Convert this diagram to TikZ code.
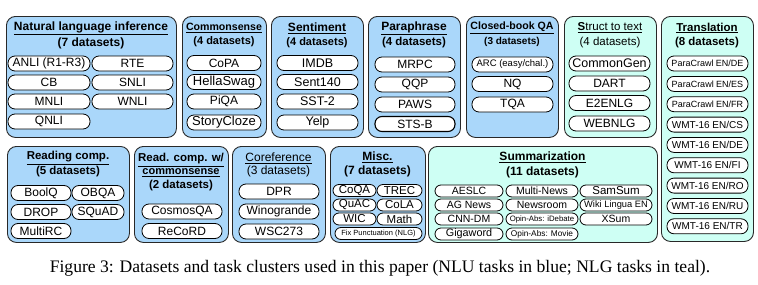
\documentclass[tikz,border=0pt]{standalone}
\usepackage{fontspec}
\setmainfont{Liberation Serif}
\newfontfamily\arialf{Liberation Sans}
\definecolor{nlu}{RGB}{170,215,250}
\definecolor{nlg}{RGB}{206,255,244}
\definecolor{boxline}{RGB}{40,40,40}
\newcommand\fs[1]{\fontsize{#1}{#1}\selectfont}
\newcommand\pill[6][]{\node[pill,minimum width=#5pt,#1] (#2) at (#3,#4) {#6};}
\tikzset{
  cbox/.style={draw=boxline, line width=0.9pt, rounded corners=9pt, inner sep=0pt, anchor=north west},
  blu/.style={cbox, fill=nlu},
  tea/.style={cbox, fill=nlg},
  ttl/.style={font=\arialf\bfseries\fs{12}, inner sep=0pt, align=center},
  ttlr/.style={font=\arialf\fs{12}, inner sep=0pt, align=center},
  pill/.style={draw=black, line width=0.8pt, fill=white, rounded corners=7pt, minimum height=15pt, inner sep=0pt, font=\arialf\fs{12}},
  spill/.style={minimum height=12pt, rounded corners=6pt},
}
\begin{document}
\begin{tikzpicture}[x=1pt,y=-1pt]
\useasboundingbox (0,0) rectangle (758,284);
% ---------- top row ----------
\node[blu, minimum width=170pt, minimum height=121pt] (nli) at (6,16) {};
\node[ttl] (nlit) at (91,28) {\underline{Natural language inference}};
\node[ttl] (nlin) at (91,43) {(7 datasets)};
\pill{anli}{49}{63.5}{82}{ANLI (R1-R3)}
\pill{rte}{132.5}{63.5}{81}{RTE}
\pill{cb}{49}{82.5}{82}{CB}
\pill{snli}{132.5}{82.5}{81}{SNLI}
\pill{mnli}{49}{101.5}{82}{MNLI}
\pill{wnli}{132.5}{101.5}{81}{WNLI}
\pill{qnli}{49}{121.5}{82}{QNLI}

\node[blu, minimum width=84pt, minimum height=121pt] (cs) at (182,16) {};
\node[ttl, font=\arialf\bfseries\fs{10.6}] (cst) at (224,28) {\underline{Commonsense}};
\node[ttl, font=\arialf\bfseries\fs{11}] (csn) at (224,42) {(4 datasets)};
\pill{copa}{224}{63}{74}{CoPA}
\pill[font=\arialf\fs{13}]{hella}{224}{82}{74}{HellaSwag}
\pill{piqa}{224}{101.5}{74}{PiQA}
\pill[font=\arialf\fs{13}]{story}{224}{122.5}{74}{StoryCloze}

\node[blu, minimum width=92pt, minimum height=121pt] (sent) at (271,16) {};
\node[ttl] (sentt) at (317,28) {\underline{Sentiment}};
\node[ttl, font=\arialf\bfseries\fs{11}] (sentn) at (317,43) {(4 datasets)};
\pill[font=\arialf\fs{12.5}]{imdb}{317.5}{63}{81}{IMDB}
\pill[font=\arialf\fs{12.5}]{s140}{317.5}{82}{81}{Sent140}
\pill[font=\arialf\fs{12.5}]{sst}{317.5}{101.5}{81}{SST-2}
\pill[font=\arialf\fs{12.5}]{yelp}{317.5}{122.5}{81}{Yelp}

\node[blu, minimum width=92pt, minimum height=121pt] (para) at (368,16) {};
\node[ttl] (parat) at (414,28) {\underline{Paraphrase}};
\node[ttl, font=\arialf\bfseries\fs{11.5}] (paran) at (414,43) {(4 datasets)};
\pill{mrpc}{415}{64.5}{80}{MRPC}
\pill{qqp}{415}{84.5}{80}{QQP}
\pill{paws}{415}{104.5}{80}{PAWS}
\pill[line width=1.1pt]{stsb}{415}{124}{80}{STS-B}

\node[blu, minimum width=92pt, minimum height=121pt] (cbqa) at (466,16) {};
\node[ttl, font=\arialf\bfseries\fs{10.6}] (cbqat) at (512,28) {\underline{Closed-book QA}};
\node[ttl, font=\arialf\bfseries\fs{10}] (cbqan) at (512,42) {(3 datasets)};
\pill[font=\arialf\fs{9.5}]{arc}{512.5}{64.5}{81}{ARC (easy/chal.)}
\pill{nq}{512.5}{84}{81}{NQ}
\pill{tqa}{512.5}{104.5}{81}{TQA}

\node[tea, minimum width=92pt, minimum height=121pt] (s2t) at (564,16) {};
\node[ttlr, font=\arialf\fs{11.5}] (s2tt) at (610,28) {\underline{\textbf{S}truct to text}};
\node[ttlr, font=\arialf\fs{11.5}] (s2tn) at (610,43) {(4 datasets)};
\pill[font=\arialf\fs{12.5}]{cgen}{609.5}{63.5}{81}{CommonGen}
\pill{dart}{609.5}{83.5}{81}{DART}
\pill{e2e}{609.5}{103}{81}{E2ENLG}
\pill{web}{609.5}{123.5}{81}{WEBNLG}

\node[tea, minimum width=92pt, minimum height=225pt] (tr) at (661,16) {};
\node[ttl, font=\arialf\bfseries\fs{11.5}] (trt) at (707,28) {\underline{Translation}};
\node[ttl, font=\arialf\bfseries\fs{11.5}] (trn) at (707,43) {(8 datasets)};
\pill[font=\arialf\fs{9}]{pde}{707.5}{63.5}{81}{ParaCrawl EN/DE}
\pill[font=\arialf\fs{9}]{pes}{707.5}{83.9}{81}{ParaCrawl EN/ES}
\pill[font=\arialf\fs{9}]{pfr}{707.5}{104.2}{81}{ParaCrawl EN/FR}
\pill[font=\arialf\fs{10}]{wcs}{707.5}{124.6}{81}{WMT-16 EN/CS}
\pill[font=\arialf\fs{10}]{wde}{707.5}{144.9}{81}{WMT-16 EN/DE}
\pill[font=\arialf\fs{10}]{wfi}{707.5}{165.3}{81}{WMT-16 EN/FI}
\pill[font=\arialf\fs{10}]{wro}{707.5}{185.6}{81}{WMT-16 EN/RO}
\pill[font=\arialf\fs{10}]{wru}{707.5}{206}{81}{WMT-16 EN/RU}
\pill[font=\arialf\fs{10}]{wtr}{707.5}{226.3}{81}{WMT-16 EN/TR}

% ---------- bottom row ----------
\node[blu, minimum width=122pt, minimum height=96pt] (rc) at (7,146) {};
\node[ttl, font=\arialf\bfseries\fs{11.5}] (rct) at (68,158) {\underline{Reading comp.}};
\node[ttl, font=\arialf\bfseries\fs{11.5}] (rcn) at (68,172) {(5 datasets)};
\pill{boolq}{41}{193}{60}{BoolQ}
\pill{obqa}{98}{193}{52}{OBQA}
\pill{drop}{41}{212}{60}{DROP}
\pill{squad}{98}{212}{52}{SQuAD}
\pill{mrc}{41}{231}{60}{MultiRC}

\node[blu, minimum width=94pt, minimum height=96pt] (rcc) at (134,146) {};
\node[ttl, font=\arialf\bfseries\fs{11.5}] (rcct) at (181,160) {\underline{Read. comp. w/}};
\node[ttl, font=\arialf\bfseries\fs{11}] (rcct2) at (181,173) {\underline{commonsense}};
\node[ttl, font=\arialf\bfseries\fs{11.5}] (rccn) at (181,186) {(2 datasets)};
\pill{cosmos}{182}{211.5}{80}{CosmosQA}
\pill{record}{182}{231}{80}{ReCoRD}

\node[blu, minimum width=93pt, minimum height=96pt] (coref) at (232,146) {};
\node[ttlr] (coreft) at (278.5,158) {\underline{Coreference}};
\node[ttlr] (corefn) at (278.5,171) {(3 datasets)};
\pill{dpr}{279}{191.5}{80}{DPR}
\pill{wino}{279}{211.5}{80}{Winogrande}
\pill{wsc}{279}{231.5}{80}{WSC273}

\node[blu, minimum width=95pt, minimum height=96pt] (misc) at (330,146) {};
\node[ttl] (misct) at (377.5,157) {\underline{Misc.}};
\node[ttl] (miscn) at (377.5,171) {(7 datasets)};
\pill[spill,font=\arialf\fs{11.5}]{coqa}{354.5}{190.5}{43}{CoQA}
\pill[spill,font=\arialf\fs{11.5}]{trec}{399.5}{190.5}{45}{TREC}
\pill[spill,font=\arialf\fs{11.5}]{quac}{354.5}{205}{43}{QuAC}
\pill[spill,font=\arialf\fs{11.5}]{cola}{399.5}{205}{45}{CoLA}
\pill[spill,font=\arialf\fs{11.5}]{wic}{354.5}{219}{43}{WIC}
\pill[spill,font=\arialf\fs{11.5}]{math}{399.5}{219}{45}{Math}
\pill[spill,font=\arialf\fs{7.5}]{fix}{378.5}{233.5}{87}{Fix Punctuation (NLG)}

\node[tea, minimum width=229pt, minimum height=96pt] (summ) at (428,146) {};
\node[ttl] (summt) at (542.5,157) {\underline{Summarization}};
\node[ttl] (summn) at (542.5,172) {(11 datasets)};
\pill[spill,font=\arialf\fs{10.5}]{aeslc}{469}{191}{68}{AESLC}
\pill[spill,font=\arialf\fs{10.5}]{mnews}{542}{191}{72}{Multi-News}
\pill[spill,font=\arialf\fs{11.5}]{samsum}{616}{191}{72}{SamSum}
\pill[spill,font=\arialf\fs{10.5}]{agnews}{469}{205}{68}{AG News}
\pill[spill,font=\arialf\fs{10.5}]{newsroom}{542}{205}{72}{Newsroom}
\pill[spill,font=\arialf\fs{9.3}]{wiki}{616}{205}{72}{Wiki Lingua EN}
\pill[spill,font=\arialf\fs{10.5}]{cnn}{469}{219}{68}{CNN-DM}
\pill[spill,font=\arialf\fs{7.8}]{opideb}{542}{219}{72}{Opin-Abs: iDebate}
\pill[spill,font=\arialf\fs{10.5}]{xsum}{616}{219}{72}{XSum}
\pill[spill,font=\arialf\fs{10.8}]{giga}{469}{234}{68}{Gigaword}
\pill[spill,font=\arialf\fs{8.3}]{opimov}{542}{234}{72}{Opin-Abs: Movie}

% ---------- caption ----------
\node[inner sep=0pt, font=\fs{17.6}] (cap) at (380,268) {Figure 3: Datasets and task clusters used in this paper (NLU tasks in blue; NLG tasks in teal).};
\end{tikzpicture}
\end{document}
